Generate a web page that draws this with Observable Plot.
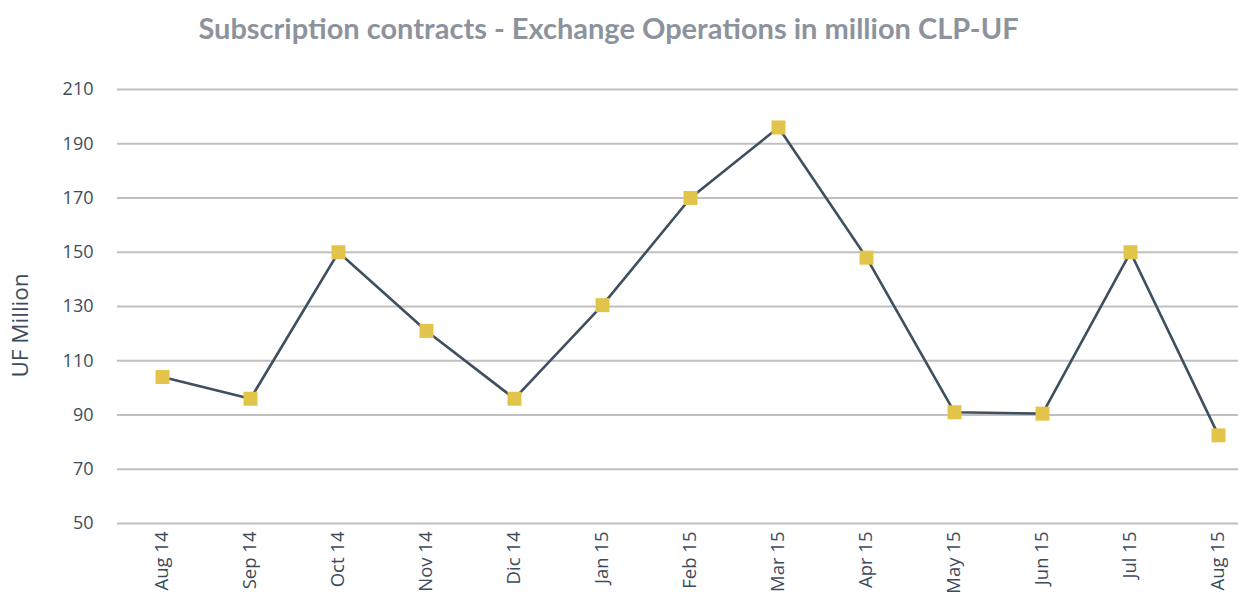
<!DOCTYPE html>
<html>
<head>
<meta charset="utf-8">
<script src="https://cdn.jsdelivr.net/npm/d3@7"></script>
<script src="https://cdn.jsdelivr.net/npm/@observablehq/plot@0.6"></script>
<style>
  html, body { margin: 0; padding: 0; background: #ffffff; }
  #wrap { width: 1238px; height: 597px; overflow: hidden; }
  #title {
    height: 55px; width: 1238px; box-sizing: border-box;
    font-family: Lato, "Open Sans", sans-serif; font-weight: 700; font-size: 29px;
    color: #8c939d; text-align: center; line-height: 55px; padding-right: 21px;
  }
  svg { display: block; }
</style>
</head>
<body>
<div id="wrap">
  <div id="title">Subscription contracts - Exchange Operations in million CLP-UF</div>
  <div id="chart"></div>
</div>
<script>
const months = ["Aug 14", "Sep 14", "Oct 14", "Nov 14", "Dic 14", "Jan 15", "Feb 15", "Mar 15", "Apr 15", "May 15", "Jun 15", "Jul 15", "Aug 15"];
const values = [104, 96, 150, 121, 96, 130.5, 170, 196, 148, 91, 90.5, 150, 82.5];
const yTicks = [50, 70, 90, 110, 130, 150, 170, 190, 210];
const yLabel = "UF Million";

const data = months.map((m, i) => ({month: m, value: values[i]}));

const textColor = "#3d4c5c";

const chart = Plot.plot({
  width: 1238,
  height: 542,
  marginLeft: 117,
  marginRight: 0,
  marginTop: 34,
  marginBottom: 74,
  style: {fontFamily: "'Open Sans', sans-serif", background: "#ffffff"},
  x: {type: "point", domain: months, range: [161, 1219], padding: 0},
  y: {domain: [50, 210]},
  marks: [
    Plot.ruleY(yTicks, {stroke: "#c0c0c0", strokeWidth: 1.8}),
    Plot.axisY({ticks: yTicks, tickSize: 0, tickPadding: 24, fontSize: 18, color: textColor, label: null}),
    Plot.axisX({tickSize: 0, tickPadding: 8, tickRotate: -90, fontSize: 18.5, color: textColor, label: null}),
    Plot.text([yLabel], {frameAnchor: "left", text: d => d, rotate: -90, textAnchor: "middle", dx: -97, dy: 19, fontSize: 22.5, fill: textColor}),
    Plot.line(data, {x: "month", y: "value", stroke: "#3e4f5f", strokeWidth: 2.6}),
    Plot.dot(data, {x: "month", y: "value", symbol: "square", r: 7.9, fill: "#e3c44a", stroke: "none"})
  ]
});
document.getElementById("chart").appendChild(chart);
</script>
</body>
</html>
